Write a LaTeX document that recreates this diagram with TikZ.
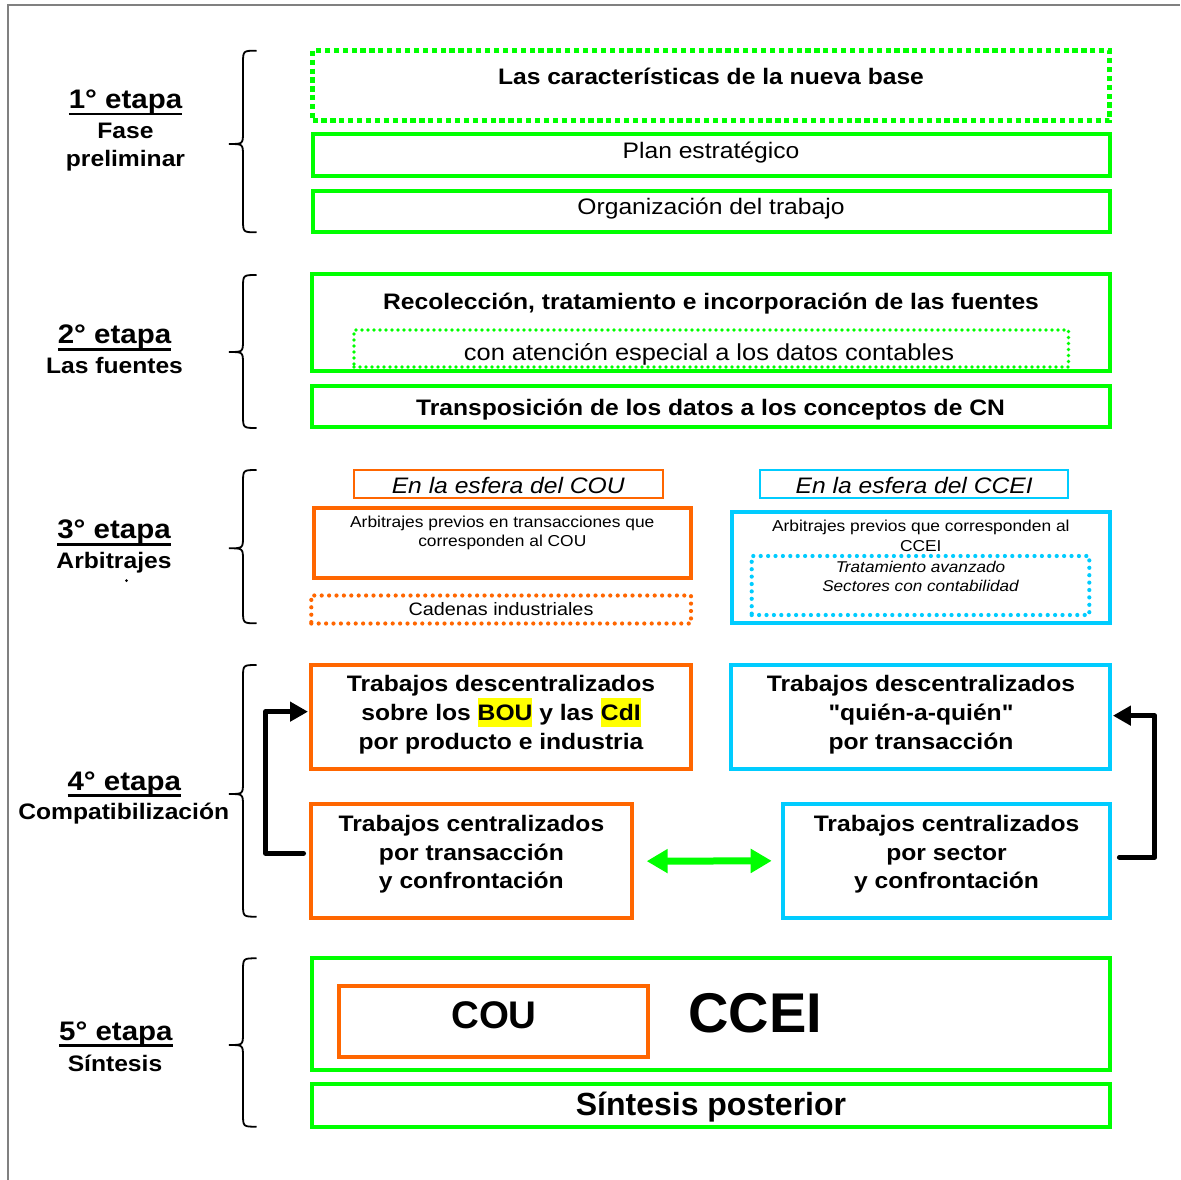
\documentclass[tikz,border=0pt]{standalone}
\usepackage{fontspec}
\setmainfont{Liberation Sans}[FakeStretch=1.1, Ligatures=TeXOff]
\newfontfamily\plainfont{Liberation Sans}
\usetikzlibrary{arrows.meta}
\definecolor{cgreen}{RGB}{0,255,0}
\definecolor{corange}{RGB}{255,102,0}
\definecolor{cblue}{RGB}{0,204,255}
\definecolor{cgray}{RGB}{128,128,128}
\definecolor{cyellow}{RGB}{255,255,0}
\newcommand\hlbox[1]{{\setlength{\fboxsep}{0pt}\colorbox{cyellow}{\rule[-6pt]{0pt}{28.4pt}#1}}}
\newcommand\mkbox[6]{\node[#1, minimum width={#5-#3}, minimum height={#6-#4}] (#2) at ({(#3+#5)/2},{(#4+#6)/2}) {};}
\newcommand\stagebrace[3]{\draw[brc] (256.5,#1) .. controls (243,#1) .. (243,{#1+13}) -- (243,{#2-12}) .. controls (243,#2) .. (229,#2) .. controls (243,#2) .. (243,{#2+12}) -- (243,{#3-13}) .. controls (243,#3) .. (256.5,#3);}
\tikzset{
  bx/.style={draw, inner sep=0pt, outer sep=0pt},
  gbox/.style={bx, cgreen, line width=4},
  obox/.style={bx, corange, line width=4},
  bbox/.style={bx, cblue, line width=4},
  othin/.style={bx, corange, line width=2},
  bthin/.style={bx, cblue, line width=2},
  bigdot/.style={bx, cgreen, line width=5.2, dash pattern=on 5.2pt off 3.7pt},
  gdot/.style={bx, cgreen, line width=3.7, line cap=round, dash pattern=on 0pt off 6pt},
  odot/.style={bx, corange, line width=4.2, line cap=round, dash pattern=on 0pt off 7.4pt},
  bdot/.style={bx, cblue, line width=4.2, line cap=round, dash pattern=on 0pt off 7.4pt},
  txt/.style={inner sep=0pt, outer sep=0pt, anchor=base},
  nb/.style={txt, font=\fontsize{22.4}{26}\selectfont\bfseries},
  nr/.style={txt, font=\fontsize{22.4}{26}\selectfont},
  ni/.style={txt, font=\fontsize{22.4}{26}\selectfont\itshape},
  sr/.style={txt, font=\fontsize{15.8}{19}\selectfont},
  si/.style={txt, font=\fontsize{15.6}{19}\selectfont\itshape},
  lab/.style={txt, font=\fontsize{26.8}{30}\selectfont\bfseries},
  lb/.style={txt, font=\fontsize{22.4}{26}\selectfont\bfseries},
  brc/.style={black, line width=1.8},
  uline/.style={black, line width=2.8},
  blk/.style={black, line width=5, line cap=round, line join=round, -{Triangle[length=18pt,width=19pt]}},
  garrow/.style={cgreen, line width=7, {Triangle[length=21pt,width=23pt]}-{Triangle[length=21pt,width=23pt]}}
}
\begin{document}
\begin{tikzpicture}[x=1pt,y=-1pt]
\useasboundingbox[fill=white] (0,0) rectangle (1180,1180);
\draw[cgray, line width=2] (7.7,1180) -- (7.7,5) -- (1180,5);

% ---------- Stage 1
\stagebrace{50.7}{144}{232.3}
\node[lab] (e1) at (125.5,108.3) {1° etapa};
\draw[uline] ([yshift=-5.8pt]e1.base west) -- ([yshift=-5.8pt]e1.base east);
\node[lb] (e1a) at (125.5,138.3) {Fase};
\node[lb] (e1b) at (125.5,166.7) {preliminar};
\mkbox{bigdot}{s1a}{312.5}{50.5}{1109.5}{120.5}
\node[nb] (s1at) at (711,85) {Las características de la nueva base};
\mkbox{gbox}{s1b}{312.5}{134.5}{1109.5}{176}
\node[nr] (s1bt) at (711,158.3) {Plan estratégico};
\mkbox{gbox}{s1c}{312.5}{190.5}{1109.5}{231.5}
\node[nr] (s1ct) at (711,214.3) {Organización del trabajo};

% ---------- Stage 2
\stagebrace{275}{352}{428}
\node[lab] (e2) at (114.5,343.3) {2° etapa};
\draw[uline] ([yshift=-5.8pt]e2.base west) -- ([yshift=-5.8pt]e2.base east);
\node[lb] (e2a) at (114.5,373.3) {Las fuentes};
\mkbox{gbox}{s2a}{312}{274}{1109.5}{371}
\node[nb] (s2at) at (711,309) {Recolección, tratamiento e incorporación de las fuentes};
\mkbox{gdot}{s2b}{354}{330}{1068.5}{367}
\node[txt, font=\fontsize{23.1}{26}\selectfont] (s2bt) at (709,360) {con atención especial a los datos contables};
\mkbox{gbox}{s2c}{312}{386}{1109.5}{427}
\node[nb] (s2ct) at (710.5,415) {Transposición de los datos a los conceptos de CN};

% ---------- Stage 3
\stagebrace{470}{548.3}{623.3}
\node[lab] (e3) at (114,538.3) {3° etapa};
\draw[uline] ([yshift=-5.8pt]e3.base west) -- ([yshift=-5.8pt]e3.base east);
\node[lb] (e3a) at (114,568.3) {Arbitrajes};
\fill (126.5,580.5) circle (1.5);
\mkbox{othin}{s3a}{353.7}{470}{662.6}{498.3}
\node[ni] (s3at) at (508.2,493.3) {En la esfera del COU};
\mkbox{obox}{s3b}{313.6}{507.7}{691}{578.3}
\node[sr] (s3bt) at (502.3,527.3) {Arbitrajes previos en transacciones que};
\node[sr] (s3bu) at (502.3,546.7) {corresponden al COU};
\mkbox{odot}{s3c}{311.3}{595.5}{691}{623.5}
\node[txt, font=\fontsize{18}{21}\selectfont] (s3ct) at (501,615.7) {Cadenas industriales};
\mkbox{bthin}{s3d}{760}{470}{1068.3}{498.3}
\node[ni] (s3dt) at (914.2,493.3) {En la esfera del CCEI};
\mkbox{bbox}{s3e}{731.7}{511.7}{1110}{623.3}
\node[sr] (s3et) at (920.8,531.7) {Arbitrajes previos que corresponden al};
\node[sr] (s3eu) at (920.8,551.7) {CCEI};
\mkbox{bdot}{s3f}{751.7}{556}{1089.3}{615}
\node[si] (s3ft) at (920.5,572.7) {Tratamiento avanzado};
\node[si] (s3fu) at (920.5,591.7) {Sectores con contabilidad};

% ---------- Stage 4
\stagebrace{665}{794}{916.7}
\node[lab] (e4) at (124.3,790) {4° etapa};
\draw[uline] ([yshift=-5.8pt]e4.base west) -- ([yshift=-5.8pt]e4.base east);
\node[lb] (e4a) at (123.7,819.3) {Compatibilización};
\mkbox{obox}{a4}{311}{665}{691}{769.3}
\node[nb] (a4t) at (501,691.7) {Trabajos descentralizados};
\node[nb] (a4u) at (501,720.7) {sobre los \hlbox{BOU} y las \hlbox{CdI}};
\node[nb] (a4v) at (501,749) {por producto e industria};
\mkbox{bbox}{b4}{731.4}{665}{1110.4}{769.3}
\node[nb] (b4t) at (921,691.7) {Trabajos descentralizados};
\node[nb] (b4u) at (921,720.7) {"quién-a-quién"};
\node[nb] (b4v) at (921,749) {por transacción};
\mkbox{obox}{c4}{311}{804}{631.7}{918.3}
\node[nb] (c4t) at (471.4,831.7) {Trabajos centralizados};
\node[nb] (c4u) at (471.4,860) {por transacción};
\node[nb] (c4v) at (471.4,888.3) {y confrontación};
\mkbox{bbox}{d4}{783.2}{804}{1110.4}{917.7}
\node[nb] (d4t) at (946.6,831.7) {Trabajos centralizados};
\node[nb] (d4u) at (946.6,860) {por sector};
\node[nb] (d4v) at (946.6,888.3) {y confrontación};
\draw[blk] ([xshift=-7.5pt,yshift=8pt]c4.west) -- ++(-38,0) |- ([xshift=-3pt,yshift=5.5pt]a4.west);
\draw[blk] ([xshift=9pt,yshift=3.6pt]d4.east) -- ++(35.3,0) |- ([xshift=2.5pt,yshift=1.5pt]b4.east);
\draw[garrow] ([xshift=15pt]c4.east) -- ([xshift=-11.5pt]d4.west);

% ---------- Stage 5
\stagebrace{958.3}{1045}{1126.7}
\node[lab] (e5) at (115.9,1040) {5° etapa};
\draw[uline] ([yshift=-5.8pt]e5.base west) -- ([yshift=-5.8pt]e5.base east);
\node[lb] (e5a) at (115,1071.7) {Síntesis};
\mkbox{gbox}{s5a}{312.3}{958.3}{1110}{1070}
\mkbox{obox}{s5b}{339}{986}{648}{1056.7}
\node[txt, font=\plainfont\fontsize{38.5}{42}\selectfont\bfseries] (s5bt) at (494,1028.3) {COU};
\node[txt, font=\plainfont\fontsize{56}{60}\selectfont\bfseries] (s5ct) at (755.4,1032.3) {CCEI};
\mkbox{gbox}{s5d}{312.3}{1084}{1110}{1126.7}
\node[txt, font=\plainfont\fontsize{32}{36}\selectfont\bfseries] (s5dt) at (711,1115) {Síntesis posterior};
\end{tikzpicture}
\end{document}
